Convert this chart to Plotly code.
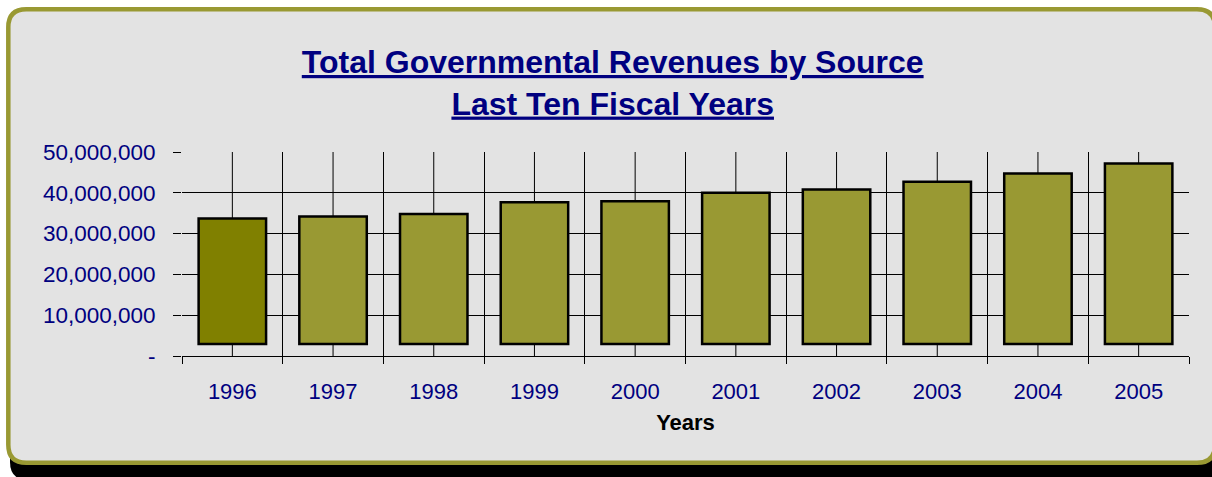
import plotly.graph_objects as go

# Revenue totals by fiscal year
YEARS = ["1996", "1997", "1998", "1999", "2000", "2001", "2002", "2003", "2004", "2005"]
REVENUE = [33_700_000, 34_200_000, 34_800_000, 37_700_000, 37_900_000,
           40_000_000, 40_800_000, 42_700_000, 44_700_000, 47_200_000]
# the columns stand on a raised 3-D floor
FLOOR = 2_950_000
Y_TICKS = [0, 10_000_000, 20_000_000, 30_000_000, 40_000_000, 50_000_000]
Y_TICK_TEXT = ["-", "10,000,000", "20,000,000", "30,000,000", "40,000,000", "50,000,000"]

W, H = 1212, 477
ML, MR, MT, MB = 182, 23, 152, 121
PW, PH = W - ML - MR, H - MT - MB

NAVY = "#000080"
OLIVE = "#999933"
OLIVE_DARK = "#808000"
PANEL = "#E3E3E3"
FONT = "Liberation Sans, Arial, sans-serif"


def px_to_paper(x, y):
    return (x - ML) / PW, (H - MB - y) / PH


def rounded_rect(x0, y0, x1, y1, r):
    def p(x, y):
        px, py = px_to_paper(x, y)
        return f"{px:.5f},{py:.5f}"

    return " ".join([
        f"M{p(x0 + r, y0)}",
        f"L{p(x1 - r, y0)}",
        f"Q{p(x1, y0)} {p(x1, y0 + r)}",
        f"L{p(x1, y1 - r)}",
        f"Q{p(x1, y1)} {p(x1 - r, y1)}",
        f"L{p(x0 + r, y1)}",
        f"Q{p(x0, y1)} {p(x0, y1 - r)}",
        f"L{p(x0, y0 + r)}",
        f"Q{p(x0, y0)} {p(x0 + r, y0)}",
        "Z",
    ])


colors = [OLIVE_DARK] + [OLIVE] * (len(YEARS) - 1)

fig = go.Figure()
fig.add_trace(go.Bar(
    x=YEARS,
    y=[v - FLOOR for v in REVENUE],
    base=FLOOR,
    marker=dict(color=colors, line=dict(color="black", width=2.5)),
    width=0.67,
    hoverinfo="skip",
))

# drop shadow and rounded panel
fig.add_shape(type="path", xref="paper", yref="paper", layer="below",
              path=rounded_rect(10, 20, 1222, 480, 18),
              fillcolor="black", line=dict(width=0))
fig.add_shape(type="path", xref="paper", yref="paper", layer="below",
              path=rounded_rect(8.3, 9.2, 1215, 462.8, 18),
              fillcolor=PANEL, line=dict(color=OLIVE, width=4.5))

# vertical grid lines through each category centre (category index positions)
for i, _ in enumerate(YEARS):
    fig.add_shape(type="line", xref="x", yref="y domain", layer="below",
                  x0=i, x1=i, y0=0, y1=1,
                  line=dict(color="black", width=1))

fig.update_layout(
    width=W, height=H,
    margin=dict(l=ML, r=MR, t=MT, b=MB, pad=0),
    paper_bgcolor="white",
    plot_bgcolor="rgba(0,0,0,0)",
    showlegend=False,
    title=dict(
        text="<u>Total Governmental Revenues by Source</u><br><u>Last Ten Fiscal Years</u>",
        font=dict(family=FONT, size=32, color=NAVY, weight="bold"),
        x=612.7 / W, xanchor="center", xref="container",
        y=1 - 73 / H, yanchor="top", yref="container",
    ),
    xaxis=dict(
        type="category",
        categoryorder="array", categoryarray=YEARS,
        range=[-0.5, len(YEARS) - 0.5],
        tickson="boundaries",
        tickangle=0,
        automargin=False,
        showgrid=True, gridcolor="black", gridwidth=1,
        ticks="outside", ticklen=7, tickcolor="black",
        tickfont=dict(family=FONT, size=22, color=NAVY),
        ticklabelstandoff=16,
        showline=True, linecolor="black", linewidth=1,
        title=dict(text="Years", font=dict(family=FONT, size=22, color="black", weight="bold"),
                   standoff=11),
        zeroline=False,
    ),
    yaxis=dict(
        range=[0, 50_000_000],
        tickvals=Y_TICKS, ticktext=Y_TICK_TEXT,
        automargin=False,
        showgrid=True, gridcolor="black", gridwidth=1,
        ticks="outside", ticklen=8, tickcolor="black",
        tickfont=dict(family=FONT, size=22.5, color=NAVY),
        ticklabelstandoff=13,
        showline=False, zeroline=False,
    ),
    bargap=0.33,
)

fig.write_html("out.html")
